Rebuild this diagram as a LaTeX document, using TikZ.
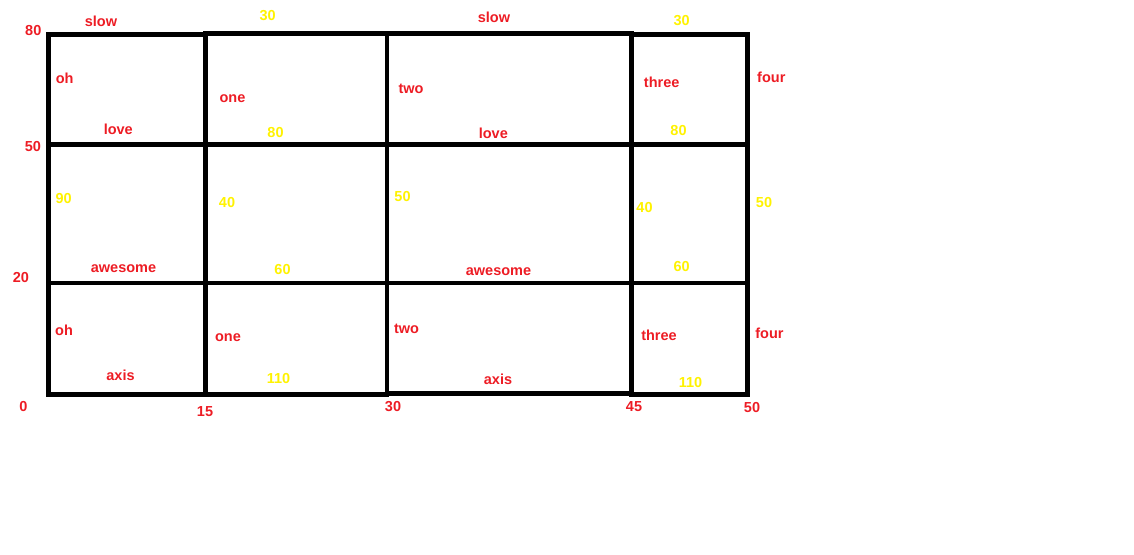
\documentclass[tikz,border=0pt]{standalone}
\usepackage{fontspec}
\setmainfont{Liberation Sans}
\usepackage{tikz}
\usetikzlibrary{positioning}
\usepackage{xcolor}
\definecolor{paintred}{HTML}{ED1C24}
\definecolor{paintyellow}{HTML}{FFF200}

\begin{document}
\begin{tikzpicture}[x=1pt, y=-1pt,
    grid/.style={line width=4.8pt, line cap=rect, black},
    rlbl/.style={text=paintred, inner sep=0pt, font=\fontsize{14.5}{16}\selectfont\bfseries},
    ylbl/.style={text=paintyellow, inner sep=0pt, font=\fontsize{14.5}{16}\selectfont\bfseries}]
  \useasboundingbox (0,0) rectangle (1134,554);

  % Grid
  \draw[grid] (48.5,34.5) -- (205.5,34.5);
  \draw[grid] (205.5,33.2) -- (631.5,33.2);
  \draw[grid] (631.5,34.5) -- (747.5,34.5);
  \draw[grid] (48.5,144.5) -- (747.5,144.5);
  \draw[grid] (48.5,283) -- (747.5,283);
  \draw[grid] (48.5,394.2) -- (387,394.2);
  \draw[grid] (387,393.5) -- (631.5,393.5);
  \draw[grid] (631.5,394.2) -- (747.5,394.2);
  \foreach \x in {48.5,205.5,387,631.5,747.5}
    \draw[grid] (\x,34.5) -- (\x,394.2);

  % Axis values
  \node[rlbl] (yEighty) at (33.3,30.5) {80};
  \node[rlbl] (yFifty) at (33,147) {50};
  \node[rlbl] (yTwenty) at (21,278) {20};
  \node[rlbl] (xZero) at (23.5,407) {0};
  \node[rlbl] (xFifteen) at (205,412) {15};
  \node[rlbl] (xThirty) at (393,407) {30};
  \node[rlbl] (xFortyfive) at (634,407) {45};
  \node[rlbl] (xFifty) at (752,408) {50};

  % Top row
  \node[rlbl] (slowA) at (101,21) {slow};
  \node[ylbl] (topA) at (267.7,16) {30};
  \node[rlbl] (slowB) at (494,17.5) {slow};
  \node[ylbl] (topB) at (681.7,21) {30};
  \node[rlbl] (ohA) at (64.7,78.3) {oh};
  \node[rlbl] (oneA) at (232.5,99) {one};
  \node[rlbl] (twoA) at (411,89) {two};
  \node[rlbl] (threeA) at (661.7,82) {three};
  \node[rlbl] (fourA) at (771.3,77) {four};
  \node[rlbl] (loveA) at (118.3,129) {love};
  \node[ylbl] (midA) at (275.5,133) {80};
  \node[rlbl] (loveB) at (493.3,133.5) {love};
  \node[ylbl] (midB) at (678.5,131) {80};

  % Middle row
  \node[ylbl] (ninety) at (63.7,199) {90};
  \node[ylbl] (fortyA) at (227,202.5) {40};
  \node[ylbl] (fiftyA) at (402.5,196.5) {50};
  \node[ylbl] (fortyB) at (644.5,207.5) {40};
  \node[ylbl] (fiftyB) at (764,202.5) {50};
  \node[rlbl] (awesomeA) at (123.5,269) {awesome};
  \node[ylbl] (sixtyA) at (282.5,270) {60};
  \node[rlbl] (awesomeB) at (498.5,272) {awesome};
  \node[ylbl] (sixtyB) at (681.7,266.5) {60};

  % Bottom row
  \node[rlbl] (ohB) at (64,330.5) {oh};
  \node[rlbl] (oneB) at (228,338) {one};
  \node[rlbl] (twoB) at (406.5,329) {two};
  \node[rlbl] (threeB) at (659,335) {three};
  \node[rlbl] (fourB) at (769.5,333.5) {four};
  \node[rlbl] (axisA) at (120.5,375) {axis};
  \node[ylbl] (botA) at (278.5,379) {110};
  \node[rlbl] (axisB) at (498,379) {axis};
  \node[ylbl] (botB) at (690.5,382.5) {110};
\end{tikzpicture}
\end{document}
